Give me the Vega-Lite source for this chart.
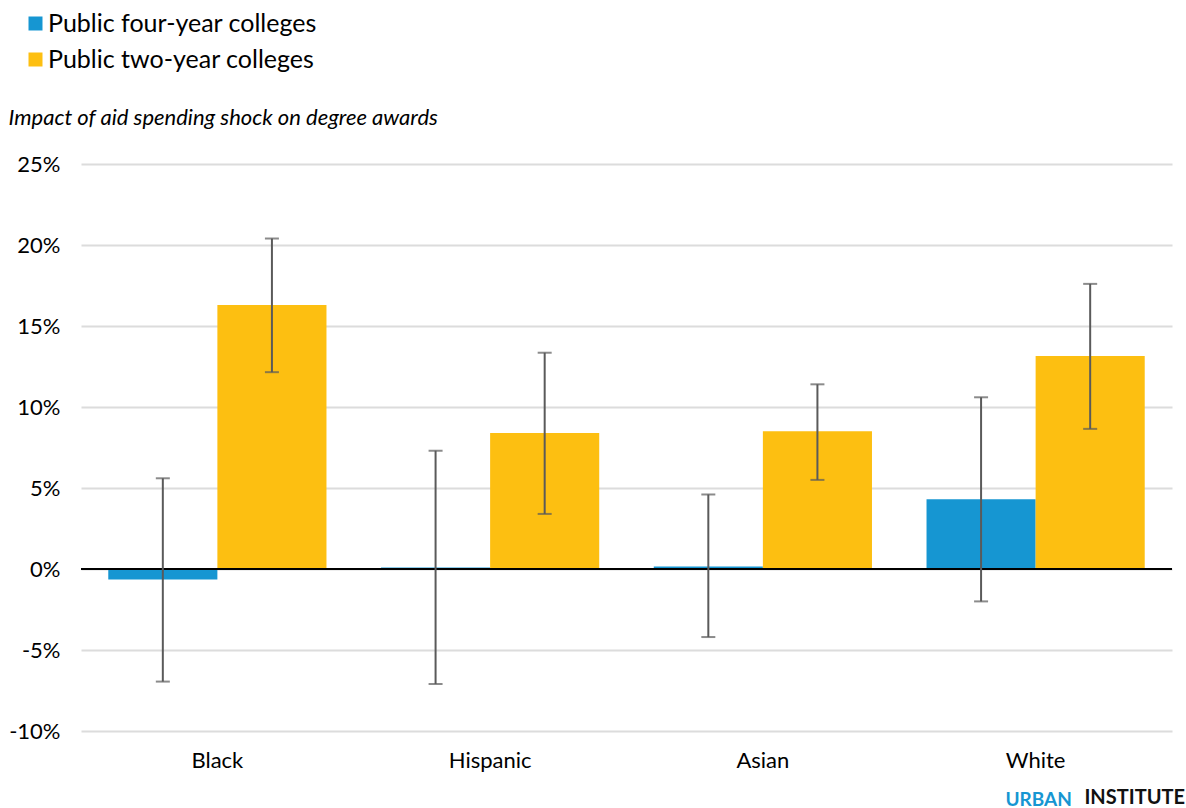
{
  "$schema": "https://vega.github.io/schema/vega-lite/v6.json",
  "width": 1091,
  "height": 567,
  "autosize": {"type": "none"},
  "padding": {"left": 81, "top": 164, "right": 14, "bottom": 77},
  "background": "white",
  "config": {
    "font": "Lato",
    "view": {"stroke": null},
    "axis": {"labelFont": "Lato", "titleFont": "Lato"}
  },
  "title": {
    "text": "INSTITUTE",
    "orient": "bottom",
    "anchor": "end",
    "font": "Lato",
    "fontSize": 20,
    "fontWeight": "bold",
    "color": "#111111",
    "baseline": "alphabetic",
    "dx": 12,
    "offset": -5
  },
  "data": {
    "values": [
      {"race": "Black", "type": "Public four-year colleges", "value": -0.65, "low": -6.95, "high": 5.6},
      {"race": "Black", "type": "Public two-year colleges", "value": 16.3, "low": 12.15, "high": 20.4},
      {"race": "Hispanic", "type": "Public four-year colleges", "value": 0.1, "low": -7.1, "high": 7.3},
      {"race": "Hispanic", "type": "Public two-year colleges", "value": 8.4, "low": 3.4, "high": 13.35},
      {"race": "Asian", "type": "Public four-year colleges", "value": 0.15, "low": -4.2, "high": 4.6},
      {"race": "Asian", "type": "Public two-year colleges", "value": 8.5, "low": 5.5, "high": 11.4},
      {"race": "White", "type": "Public four-year colleges", "value": 4.3, "low": -2.0, "high": 10.6},
      {"race": "White", "type": "Public two-year colleges", "value": 13.15, "low": 8.65, "high": 17.6}
    ]
  },
  "encoding": {
    "x": {
      "field": "race",
      "type": "nominal",
      "sort": ["Black", "Hispanic", "Asian", "White"],
      "scale": {"paddingInner": 0.2, "paddingOuter": 0.1},
      "axis": {
        "title": "URBAN",
        "titleColor": "#1696d2",
        "titleFontSize": 19,
        "titleFontWeight": "bold",
        "titleAlign": "left",
        "titleBaseline": "alphabetic",
        "titleX": 924,
        "titleY": 74,
        "labelAngle": 0,
        "labelFontSize": 22,
        "labelColor": "#000000",
        "labelPadding": 19,
        "ticks": false,
        "domain": false
      }
    },
    "xOffset": {"field": "type", "type": "nominal", "scale": {"paddingInner": 0, "paddingOuter": 0}}
  },
  "layer": [
    {
      "mark": {"type": "bar"},
      "encoding": {
        "y": {
          "field": "value",
          "type": "quantitative",
          "scale": {"domain": [-10, 25], "nice": false},
          "axis": {
            "values": [-10, -5, 0, 5, 10, 15, 20, 25],
            "labelExpr": "datum.value + '%'",
            "labelFontSize": 22,
            "labelColor": "#000000",
            "labelPadding": 21,
            "ticks": false,
            "domain": false,
            "grid": true,
            "gridColor": "#dcdcdc",
            "gridWidth": 2,
            "title": "Impact of aid spending shock on degree awards",
            "titleFontStyle": "italic",
            "titleFontWeight": "normal",
            "titleFontSize": 22,
            "titleColor": "#000000",
            "titleAngle": 0,
            "titleAlign": "left",
            "titleBaseline": "middle",
            "titleX": -73,
            "titleY": -47
          }
        },
        "color": {
          "field": "type",
          "type": "nominal",
          "scale": {"domain": ["Public four-year colleges", "Public two-year colleges"], "range": ["#1696d2", "#fdbf11"]},
          "legend": {
            "title": null,
            "orient": "none",
            "legendX": -58,
            "legendY": -153,
            "symbolType": "square",
            "symbolSize": 196,
            "symbolStrokeWidth": 0,
            "labelFontSize": 25,
            "labelLimit": 0,
            "labelColor": "#000000",
            "labelOffset": 0,
            "rowPadding": 10
          }
        }
      }
    },
    {
      "mark": {"type": "rule", "color": "#000000", "strokeWidth": 2},
      "encoding": {"y": {"datum": 0}, "x": null, "xOffset": null}
    },
    {
      "mark": {"type": "rule", "color": "#5a5a5a", "strokeWidth": 2},
      "encoding": {"y": {"field": "low", "type": "quantitative"}, "y2": {"field": "high"}}
    },
    {
      "mark": {"type": "tick", "color": "#5a5a5a", "thickness": 2, "size": 14, "orient": "horizontal"},
      "encoding": {"y": {"field": "low", "type": "quantitative"}}
    },
    {
      "mark": {"type": "tick", "color": "#5a5a5a", "thickness": 2, "size": 14, "orient": "horizontal"},
      "encoding": {"y": {"field": "high", "type": "quantitative"}}
    }
  ]
}
